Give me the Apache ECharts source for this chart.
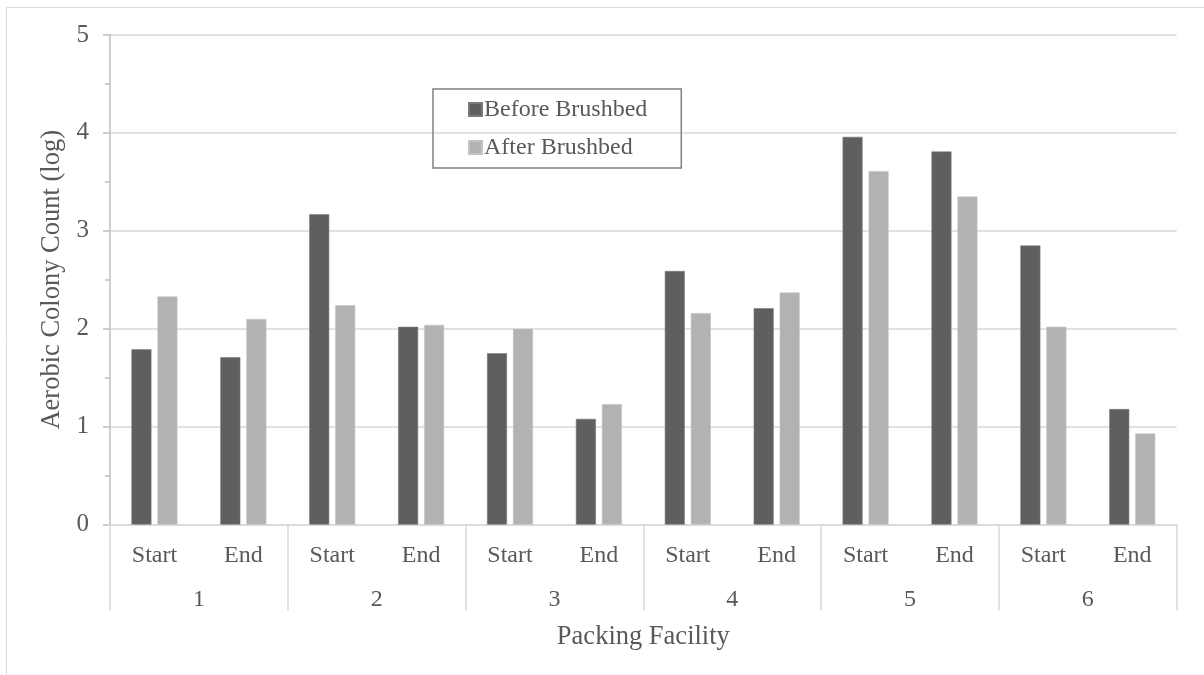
<!DOCTYPE html>
<html>
<head>
<meta charset="utf-8">
<script src="https://cdn.jsdelivr.net/npm/echarts@6/dist/echarts.min.js"></script>
<style>
  html, body { margin: 0; padding: 0; background: #fff; }
  #chart { width: 1204px; height: 675px; }
</style>
</head>
<body>
<div id="chart"></div>
<script>
// Sampling points within each facility, and the facilities themselves
const stages = ['Start', 'End', 'Start', 'End', 'Start', 'End', 'Start', 'End', 'Start', 'End', 'Start', 'End'];
const facilities = ['1', '2', '3', '4', '5', '6'];

// Aerobic colony count (log) per facility/stage
const beforeBrushbed = [1.79, 1.71, 3.17, 2.02, 1.75, 1.08, 2.59, 2.21, 3.96, 3.81, 2.85, 1.18];
const afterBrushbed  = [2.33, 2.10, 2.24, 2.04, 2.00, 1.23, 2.16, 2.37, 3.61, 3.35, 2.02, 0.93];

const yTicks = [0, 1, 2, 3, 4, 5];

const textColor = '#595959';
const font = '"Liberation Serif", "Times New Roman", serif';

const chart = echarts.init(document.getElementById('chart'), null, { renderer: 'canvas' });

chart.setOption({
  animation: false,
  backgroundColor: '#ffffff',
  textStyle: { fontFamily: font, color: textColor },
  graphic: [{
    type: 'rect',
    shape: { x: 6.5, y: 7.5, width: 1220, height: 700 },
    style: { fill: 'none', stroke: '#d9d9d9', lineWidth: 1 },
    silent: true
  }],
  grid: { left: 110, right: 27.3, top: 35, bottom: 150.4, containLabel: false },
  legend: {
    left: 433, top: 89,
    orient: 'vertical',
    itemWidth: 13, itemHeight: 13, itemGap: 14,
    padding: [8.5, 34, 8.5, 35],
    borderColor: '#808080', borderWidth: 1.5,
    icon: 'rect',
    textStyle: { fontFamily: font, fontSize: 24, color: textColor, padding: [0, 0, 0, -3] },
    data: ['Before Brushbed', 'After Brushbed']
  },
  xAxis: [
    {
      type: 'category',
      data: stages,
      position: 'bottom',
      axisLine: { show: true, lineStyle: { color: '#d9d9d9', width: 1.5 } },
      axisTick: { show: false },
      axisLabel: { fontFamily: font, fontSize: 24, color: textColor, margin: 19, interval: 0 },
      splitLine: { show: false }
    },
    {
      type: 'category',
      data: facilities,
      position: 'bottom',
      offset: 0,
      axisLine: { show: false },
      axisTick: { show: true, length: 86, inside: false, lineStyle: { color: '#d9d9d9', width: 1.5 } },
      axisLabel: { fontFamily: font, fontSize: 24, color: textColor, margin: 63, interval: 0 },
      name: 'Packing Facility',
      nameLocation: 'middle',
      nameGap: 99,
      nameTextStyle: { fontFamily: font, fontSize: 26.5, color: textColor }
    }
  ],
  yAxis: {
    type: 'value',
    min: 0, max: 5, interval: 1,
    axisLine: { show: true, lineStyle: { color: '#bfbfbf', width: 1.5 } },
    axisTick: { show: true, length: 7, lineStyle: { color: '#bfbfbf', width: 1.5 } },
    minorTick: { show: true, splitNumber: 2, length: 5, lineStyle: { color: '#bfbfbf', width: 1.5 } },
    splitLine: { show: true, lineStyle: { color: '#d9d9d9', width: 1.5 } },
    axisLabel: {
      fontFamily: font, fontSize: 25, color: textColor, margin: 21,
      formatter: v => (yTicks.indexOf(v) >= 0 ? String(v) : '')
    },
    name: 'Aerobic Colony Count (log)',
    nameLocation: 'middle',
    nameGap: 43,
    nameRotate: 90,
    nameTextStyle: { fontFamily: font, fontSize: 26.5, color: textColor }
  },
  series: [
    {
      name: 'Before Brushbed',
      type: 'bar',
      xAxisIndex: 0,
      data: beforeBrushbed,
      barWidth: 20,
      barGap: '30%',
      itemStyle: { color: '#5f5f5f', borderColor: '#7a7a7a', borderWidth: 0.6 }
    },
    {
      name: 'After Brushbed',
      type: 'bar',
      xAxisIndex: 0,
      data: afterBrushbed,
      barWidth: 20,
      barGap: '30%',
      itemStyle: { color: '#b2b2b2', borderColor: '#c4c4c4', borderWidth: 0.6 }
    }
  ]
});
</script>
</body>
</html>
